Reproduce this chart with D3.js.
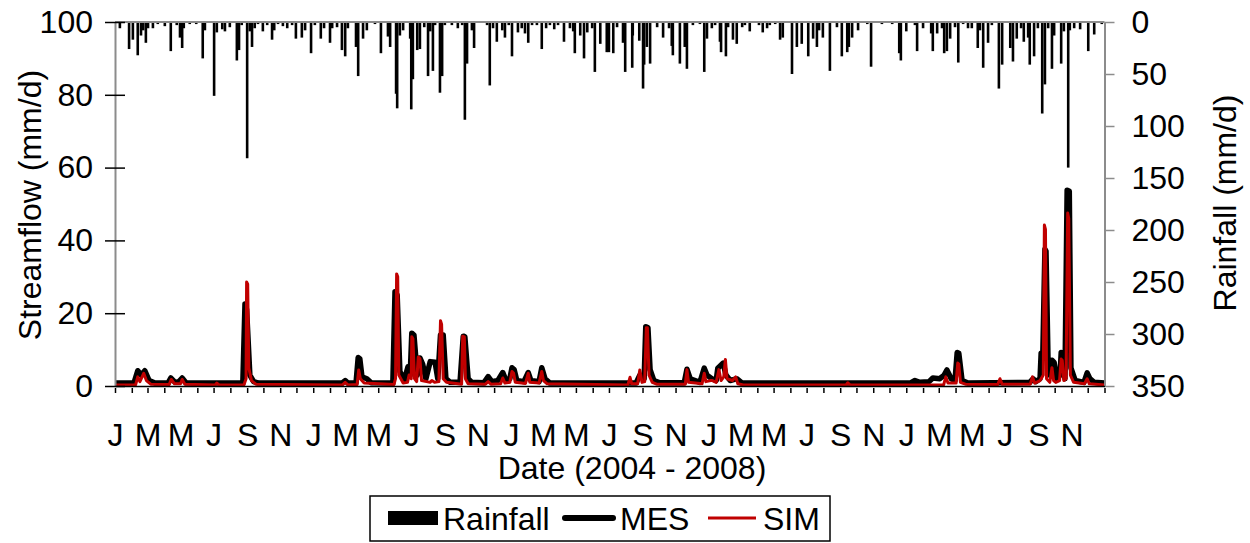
<!DOCTYPE html>
<html>
<head>
<meta charset="utf-8">
<script src="https://cdn.jsdelivr.net/npm/d3@7"></script>
<style>
    body { margin: 0; background: #fff; }
    svg text { font-family: "Liberation Sans", Arial, sans-serif; fill: #000; }
</style>
</head>
<body>
<svg id="chart" width="1250" height="543"></svg>
<script>
// daily rainfall (mm), day index counted from 1 Jan 2004
var rainDay = [9, 26, 33, 42, 48, 52, 57, 61, 70, 79, 92, 103, 114, 120, 124, 127, 138, 150, 162, 166,
    183, 188, 198, 203, 212, 225, 229, 234, 244, 249, 253, 258, 264, 273, 281, 290, 294, 301, 310, 318,
    327, 334, 345, 351, 362, 369, 380, 386, 397, 401, 410, 419, 425, 430, 445, 449, 458, 465, 480, 491,
    504, 508, 519, 521, 526, 532, 545, 547, 550, 558, 563, 571, 578, 582, 587, 591, 600, 604, 609, 622,
    633, 641, 646, 650, 659, 663, 687, 692, 698, 705, 715, 720, 727, 733, 744, 751, 757, 763, 770, 779,
    788, 796, 803, 811, 818, 829, 840, 846, 849, 859, 866, 872, 881, 886, 896, 908, 912, 920, 927, 938,
    942, 955, 956, 968, 975, 977, 982, 988, 1001, 1012, 1023, 1028, 1030, 1043, 1052, 1056, 1067, 1080, 1088, 1093,
    1102, 1108, 1117, 1119, 1128, 1132, 1141, 1148, 1158, 1163, 1172, 1189, 1196, 1204, 1209, 1219, 1228, 1233, 1250, 1259,
    1268, 1280, 1289, 1296, 1300, 1307, 1320, 1333, 1342, 1352, 1355, 1361, 1372, 1389, 1396, 1416, 1435, 1448, 1451, 1461,
    1477, 1481, 1492, 1507, 1510, 1518, 1527, 1531, 1536, 1542, 1551, 1557, 1566, 1575, 1582, 1593, 1597, 1603, 1612, 1619,
    1632, 1638, 1653, 1658, 1665, 1673, 1678, 1686, 1689, 1697, 1704, 1712, 1717, 1723, 1730, 1734, 1747, 1752, 1760, 1763,
    1771, 1782, 1797, 1808, 1822];
var rainMm = [6, 26, 17, 32, 13, 8, 20, 6, 6, 2, 4, 28, 3, 15, 25, 6, 2, 2, 35, 8,
    71, 10, 7, 9, 5, 37, 27, 3, 131, 9, 24, 6, 2, 9, 3, 17, 8, 2, 4, 6,
    3, 16, 15, 8, 30, 3, 16, 6, 20, 6, 5, 27, 33, 6, 24, 52, 16, 8, 2, 30,
    14, 24, 69, 83, 13, 8, 16, 84, 55, 27, 26, 5, 52, 9, 47, 3, 68, 52, 3, 3,
    6, 3, 94, 40, 8, 25, 3, 61, 6, 19, 8, 15, 3, 33, 10, 6, 11, 20, 3, 3,
    26, 6, 3, 7, 3, 19, 6, 9, 30, 13, 35, 10, 6, 48, 21, 29, 29, 30, 5, 20,
    48, 44, 13, 18, 64, 41, 24, 40, 5, 15, 6, 23, 32, 40, 24, 45, 3, 2, 48, 16,
    6, 3, 19, 29, 33, 5, 17, 21, 5, 3, 9, 3, 10, 6, 3, 2, 17, 15, 50, 24,
    21, 33, 16, 24, 8, 15, 47, 5, 33, 29, 24, 15, 8, 2, 43, 2, 2, 30, 37, 9,
    3, 28, 6, 11, 28, 11, 6, 30, 28, 16, 5, 39, 2, 6, 6, 25, 8, 44, 20, 3,
    64, 41, 25, 38, 16, 6, 19, 15, 41, 33, 6, 88, 60, 6, 45, 13, 40, 9, 140, 8,
    6, 7, 28, 12, 2];

// measured streamflow (MES) knots: day index / mm per day
var mesDay = [0, 35, 42, 48, 55, 63, 74, 98, 103, 111, 118, 124, 131, 236, 240, 243, 249, 256, 265,
    419, 425, 430, 445, 449, 452, 456, 465, 473, 513, 517, 521, 526, 534, 541, 545, 548, 552, 558, 563,
    568, 574, 582, 591, 596, 601, 606, 611, 619, 637, 643, 646, 652, 659, 681, 689, 696, 707, 716, 722,
    729, 733, 737, 742, 755, 763, 768, 783, 788, 794, 803, 962, 969, 977, 980, 984, 988, 995, 1006,
    1051, 1056, 1062, 1080, 1088, 1093, 1102, 1110, 1113, 1123, 1128, 1136, 1148, 1158, 1468, 1477, 1486,
    1503, 1510, 1523, 1531, 1536, 1544, 1551, 1555, 1558, 1564, 1575, 1689, 1695, 1700, 1708, 1710, 1713,
    1717, 1719, 1723, 1726, 1730, 1734, 1739, 1745, 1747, 1750, 1754, 1758, 1762, 1765, 1773, 1789, 1795,
    1800, 1808, 1827];
var mesVal = [0.8, 0.8, 4.2, 3.0, 4.2, 1.5, 0.8, 0.8, 2.2, 1.0, 1.2, 2.2, 0.9, 0.8, 22.5, 21, 3, 1.2, 0.8,
    0.8, 1.5, 0.8, 0.8, 7.8, 7.5, 2.5, 2.0, 0.9, 0.8, 25.9, 25, 4, 1.5, 5.3, 3, 14.5, 14, 3, 7.7,
    6, 2, 6.7, 6.5, 2, 14, 14, 2, 1.0, 1.0, 13.7, 13.5, 2, 1.0, 0.9, 2.6, 1.2, 1.5, 3.7, 1.5,
    2, 5, 4.5, 1.5, 1.2, 3.7, 1.5, 1.2, 5, 2, 0.8, 0.8, 3, 2, 16.3, 16, 4.5, 1.5, 0.9,
    0.9, 4.6, 2, 1.0, 4.9, 3, 2, 1.5, 4.9, 6.3, 3, 1.5, 2, 0.8, 0.8, 1.5, 1.0,
    1.2, 2.2, 2.0, 3, 4.4, 2, 1.5, 9.2, 9, 1.5, 0.8, 1.0, 2, 1.2, 2, 9, 8,
    37.6, 37, 5, 3, 7.1, 6.5, 2, 3, 9.2, 9, 2, 53.8, 53.5, 5, 1.5, 1.0, 3.6,
    2, 1.0, 0.8];

// simulated streamflow (SIM) knots
var simDay = [0, 38, 42, 46, 53, 58, 66, 100, 104, 110, 121, 124, 129, 185, 188, 192, 238, 242, 243, 245,
    247, 252, 260, 420, 425, 430, 447, 450, 453, 460, 515, 518, 520, 522, 524, 532, 540, 543, 547, 548,
    550, 553, 557, 560, 563, 566, 582, 585, 590, 598, 601, 603, 606, 612, 640, 642, 645, 647, 652, 684,
    689, 694, 712, 716, 720, 729, 733, 736, 739, 758, 763, 766, 783, 788, 791, 798, 947, 951, 954, 965,
    969, 973, 978, 981, 983, 986, 992, 1000, 1053, 1056, 1059, 1084, 1088, 1091, 1100, 1103, 1110, 1115, 1119, 1124,
    1127, 1130, 1140, 1146, 1150, 1160, 1350, 1353, 1357, 1530, 1534, 1538, 1553, 1556, 1558, 1561, 1570, 1630, 1634, 1638,
    1690, 1694, 1698, 1708, 1712, 1714, 1716, 1718, 1720, 1726, 1730, 1733, 1737, 1744, 1747, 1749, 1752, 1756, 1759, 1761,
    1764, 1770, 1790, 1795, 1799, 1827];
var simVal = [0.3, 0.3, 2.5, 1.2, 3.5, 1.5, 0.5, 0.4, 1.8, 0.6, 0.6, 1.8, 0.5, 0.3, 0.8, 0.3, 0.3, 2, 28.6, 28,
    5, 1.5, 0.5, 0.3, 1, 0.3, 0.4, 4.4, 2, 0.8, 0.4, 2, 30.8, 30, 3, 0.8, 1, 3, 2, 13.5,
    13, 2, 1.2, 8, 7.5, 1.5, 1.0, 1.5, 1.0, 1.2, 17.9, 17, 2, 1.0, 0.5, 13.7, 13.5, 2, 0.6, 0.5,
    1.2, 0.5, 0.6, 2.2, 0.8, 1, 4, 3.5, 1, 0.7, 3.5, 1, 0.8, 4, 1.5, 0.6, 0.3, 2.4, 0.6, 0.6,
    4.4, 1, 1.2, 16, 16, 3, 1.0, 0.5, 0.5, 4.5, 1, 0.6, 3.5, 1.2, 1.5, 1.5, 1, 4.5, 1.5, 2.5,
    7.3, 2, 1.5, 2.5, 0.6, 0.3, 0.3, 0.9, 0.3, 0.3, 2.5, 0.8, 0.8, 6.3, 6, 1, 0.5, 0.4, 2, 0.5,
    0.5, 2.5, 0.8, 1.5, 2.5, 3, 44.2, 43, 2, 1, 5, 1.5, 1, 1.5, 7.4, 7, 1.5, 2, 47.5, 46,
    3, 1.0, 0.6, 2, 0.6, 0.3];

var flowTicks = [0, 20, 40, 60, 80, 100];
var rainTicks = [0, 50, 100, 150, 200, 250, 300, 350];
var monthLetters = ['J', 'F', 'M', 'A', 'M', 'J', 'J', 'A', 'S', 'O', 'N', 'D'];
var legendItems = [
    { name: 'Rainfall', kind: 'bar' },
    { name: 'MES', kind: 'mes' },
    { name: 'SIM', kind: 'sim' }
];

var start = new Date(2004, 0, 1),
    end = new Date(2009, 0, 1);
function toDate(d) { return d3.timeDay.offset(start, d); }

// plot box (window.top is reserved, hence the prefixes)
var pLeft = 115, pRight = 1104.5, pTop = 22, pBottom = 386;
var fontSize = '32px';
var svg = d3.select('#chart');

var x = d3.scaleTime().domain([start, end]).range([pLeft, pRight]);
var yFlow = d3.scaleLinear().domain([0, 100]).range([pBottom, pTop]);
var yRain = d3.scaleLinear().domain([0, 350]).range([pTop, pBottom]);

// rainfall bars hanging from the top
var rain = rainDay.map(function (d, i) { return { date: toDate(d), mm: rainMm[i] }; });
svg.append('g').selectAll('rect')
    .data(rain)
    .enter().append('rect')
    .attr('x', function (d) { return x(d.date) - 1.3; })
    .attr('y', pTop)
    .attr('width', 2.6)
    .attr('height', function (d) { return yRain(d.mm) - pTop; })
    .attr('fill', '#000');

// top frame line
svg.append('line')
    .attr('x1', pLeft).attr('x2', pRight)
    .attr('y1', pTop).attr('y2', pTop)
    .attr('stroke', '#8c8c8c').attr('stroke-width', 2);

var line = d3.line()
    .x(function (d) { return x(d.date); })
    .y(function (d) { return yFlow(d.v); });

var mes = mesDay.map(function (d, i) { return { date: toDate(d), v: mesVal[i] }; });
var sim = simDay.map(function (d, i) { return { date: toDate(d), v: simVal[i] }; });

svg.append('path').datum(mes)
    .attr('d', line)
    .attr('fill', 'none')
    .attr('stroke', '#000')
    .attr('stroke-width', 5.5)
    .attr('stroke-linejoin', 'round');

svg.append('path').datum(sim)
    .attr('d', line)
    .attr('fill', 'none')
    .attr('stroke', '#c00000')
    .attr('stroke-width', 3)
    .attr('stroke-linejoin', 'round');

// left axis (streamflow)
var gLeft = svg.append('g')
    .attr('transform', 'translate(' + pLeft + ',0)')
    .call(d3.axisLeft(yFlow).tickValues(flowTicks).tickSize(10).tickPadding(12).tickSizeOuter(0));
gLeft.select('.domain').attr('stroke', '#8c8c8c').attr('stroke-width', 2);
gLeft.selectAll('.tick line').attr('x1', 10).attr('stroke', '#000').attr('stroke-width', 1.5);
gLeft.selectAll('.tick text').style('font-size', fontSize);

// right axis (rainfall)
var gRight = svg.append('g')
    .attr('transform', 'translate(' + pRight + ',0)')
    .call(d3.axisRight(yRain).tickValues(rainTicks).tickSize(10).tickPadding(17).tickSizeOuter(0));
gRight.select('.domain').attr('stroke', '#8c8c8c').attr('stroke-width', 2);
gRight.selectAll('.tick line').attr('stroke', '#8c8c8c').attr('stroke-width', 1.5);
gRight.selectAll('.tick text').style('font-size', fontSize);

// bottom axis: monthly ticks, a letter every second month
var gBottom = svg.append('g')
    .attr('transform', 'translate(0,' + pBottom + ')')
    .call(d3.axisBottom(x).ticks(d3.timeMonth.every(1)).tickSize(7).tickSizeOuter(0)
        .tickFormat(function (d) { return d.getMonth() % 2 === 0 && d < end ? monthLetters[d.getMonth()] : ''; })
        .tickPadding(30));
gBottom.select('.domain').attr('stroke', '#000').attr('stroke-width', 1.5);
gBottom.selectAll('.tick line').attr('y1', 2).attr('stroke', '#000').attr('stroke-width', 1.5);
gBottom.selectAll('.tick text').style('font-size', fontSize);

// axis titles
svg.append('text')
    .attr('transform', 'translate(30,205) rotate(-90)')
    .attr('text-anchor', 'middle')
    .attr('dominant-baseline', 'central')
    .style('font-size', fontSize)
    .text('Streamflow (mm/d)');

svg.append('text')
    .attr('transform', 'translate(1225,203) rotate(-90)')
    .attr('text-anchor', 'middle')
    .attr('dominant-baseline', 'central')
    .style('font-size', fontSize)
    .text('Rainfall (mm/d)');

svg.append('text')
    .attr('x', 632).attr('y', 479)
    .attr('text-anchor', 'middle')
    .style('font-size', fontSize)
    .text('Date (2004 - 2008)');

// legend
var leg = svg.append('g');
leg.append('rect')
    .attr('x', 370).attr('y', 496)
    .attr('width', 460).attr('height', 45)
    .attr('fill', '#fff').attr('stroke', '#000').attr('stroke-width', 1.5);

var legX = [388, 565, 708];
legendItems.forEach(function (item, i) {
    var gx = legX[i], cy = 518;
    if (item.kind === 'bar') {
        leg.append('rect').attr('x', gx).attr('y', cy - 7).attr('width', 50).attr('height', 14).attr('fill', '#000');
    } else {
        leg.append('line')
            .attr('x1', gx).attr('x2', gx + 48).attr('y1', cy).attr('y2', cy)
            .attr('stroke', item.kind === 'mes' ? '#000' : '#c00000')
            .attr('stroke-width', item.kind === 'mes' ? 6 : 3)
            .attr('stroke-linecap', item.kind === 'mes' ? 'round' : 'butt');
    }
    leg.append('text')
        .attr('x', gx + 55).attr('y', cy + 12)
        .style('font-size', fontSize)
        .text(item.name);
});
</script>
</body>
</html>
